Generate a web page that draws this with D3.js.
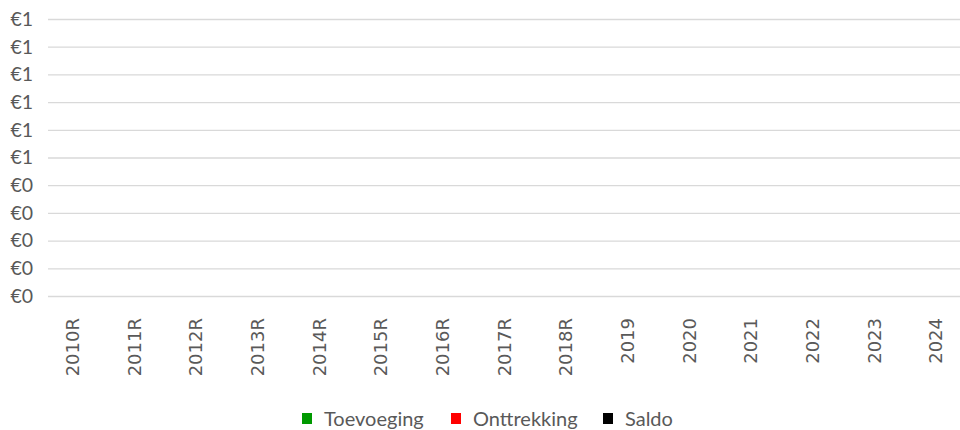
<!DOCTYPE html>
<html>
<head>
<meta charset="utf-8">
<script src="https://cdn.jsdelivr.net/npm/d3@7"></script>
<style>
  body{margin:0;background:#fff;}
  svg text{fill:#595959;}
</style>
</head>
<body>
<div id="chart"></div>
<script>
'use strict';

// categories along the x axis (R = realisatie)
const categories = ["2010R","2011R","2012R","2013R","2014R","2015R","2016R","2017R","2018R",
    "2019","2020","2021","2022","2023","2024"];

// series - no values present in the picture
const toevoeging = [];
const onttrekking = [];
const saldo = [];

const yTicks = [0,0.1,0.2,0.3,0.4,0.5,0.6,0.7,0.8,0.9,1.0];

const seriesNames = ["Toevoeging","Onttrekking","Saldo"];
const seriesColors = ["#009900","#ff0000","#000000"];

const width = 960, height = 430;
const svg = d3.select("#chart").append("svg")
    .attr("width", width)
    .attr("height", height);

const x = d3.scaleBand().domain(categories).range([43, 968]);
const y = d3.scaleLinear().domain([0, 1]).range([296, 19]);

//gridlines
svg.append("g").selectAll("line")
    .data(yTicks)
    .join("line")
    .attr("x1", 48).attr("x2", 960)
    .attr("y1", d => y(d) + 0.5).attr("y2", d => y(d) + 0.5)
    .style("stroke", "#d9d9d9")
    .style("stroke-width", 1.3);

//y labels
const fmt = d => "€" + Math.round(d + 1e-9);
svg.append("g").selectAll("text")
    .data(yTicks)
    .join("text")
    .attr("x", 33)
    .attr("y", d => y(d))
    .attr("dy", "0.35em")
    .attr("text-anchor", "end")
    .style("font-family", "Lato, 'Open Sans', sans-serif")
    .style("font-size", "19.5px")
    .text(fmt);

//x labels rotated
svg.append("g").selectAll("text")
    .data(categories)
    .join("text")
    .attr("transform", d => `translate(${x(d) + x.bandwidth() / 2 - 1},318) rotate(-90)`)
    .attr("dy", "0.35em")
    .attr("text-anchor", "end")
    .style("font-family", "'DejaVu Sans', sans-serif")
    .style("font-size", "18px")
    .text(d => d);

// bars for each series (empty data)
const inner = d3.scaleBand().domain(seriesNames).range([0, x.bandwidth()]).padding(0.2);
[toevoeging, onttrekking].forEach((vals, si) => {
    svg.append("g").selectAll("rect")
        .data(vals.map((v, i) => ({v: v, c: categories[i]})))
        .join("rect")
        .attr("x", d => x(d.c) + inner(seriesNames[si]))
        .attr("width", inner.bandwidth())
        .attr("y", d => Math.min(y(d.v), y(0)))
        .attr("height", d => Math.abs(y(d.v) - y(0)))
        .style("fill", seriesColors[si]);
});
svg.append("path")
    .datum(saldo.map((v, i) => ({v: v, c: categories[i]})))
    .attr("d", d3.line().x(d => x(d.c) + x.bandwidth() / 2).y(d => y(d.v)))
    .style("fill", "none")
    .style("stroke", seriesColors[2]);

//legend
const legendX = [302, 451, 603];
const legend = svg.append("g").selectAll("g")
    .data(seriesNames)
    .join("g")
    .attr("transform", (d, i) => `translate(${legendX[i]},413)`);
legend.append("rect")
    .attr("width", 10).attr("height", 11)
    .style("fill", (d, i) => seriesColors[i]);
legend.append("text")
    .attr("x", 22).attr("y", 12.5)
    .style("font-family", "Lato, 'Open Sans', sans-serif")
    .style("font-size", "20px")
    .text(d => d);
</script>
</body>
</html>
